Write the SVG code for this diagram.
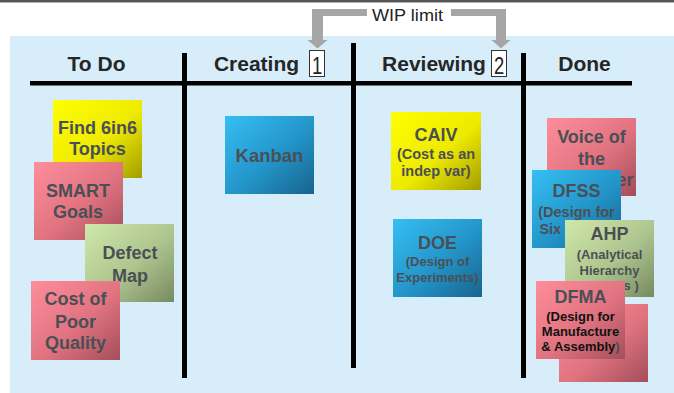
<svg xmlns="http://www.w3.org/2000/svg" width="674" height="393" viewBox="0 0 674 393">
<defs>
<linearGradient id="gY" x1="0" y1="0" x2="1" y2="1"><stop offset="0" stop-color="#ffff00"/><stop offset="0.55" stop-color="#eeea00"/><stop offset="1" stop-color="#a39d00"/></linearGradient>
<linearGradient id="gP" x1="0" y1="0" x2="1" y2="1"><stop offset="0" stop-color="#ff8d9b"/><stop offset="0.55" stop-color="#e0737f"/><stop offset="1" stop-color="#a34e5a"/></linearGradient>
<linearGradient id="gG" x1="0" y1="0" x2="1" y2="1"><stop offset="0" stop-color="#cfe8aa"/><stop offset="0.55" stop-color="#adc48e"/><stop offset="1" stop-color="#788a60"/></linearGradient>
<linearGradient id="gB" x1="0" y1="0" x2="1" y2="1"><stop offset="0" stop-color="#35bff4"/><stop offset="0.55" stop-color="#2394c8"/><stop offset="1" stop-color="#17648e"/></linearGradient>
<style>
.hd{font-family:"Liberation Sans",Arial,sans-serif;font-weight:bold;font-size:21px;fill:#262626;text-anchor:middle}
.t{font-family:"Liberation Sans",Arial,sans-serif;font-weight:bold;font-size:18px;fill:#4a4f55;text-anchor:middle}
.s{font-family:"Liberation Sans",Arial,sans-serif;font-weight:bold;font-size:13px;fill:#4a4f55;text-anchor:middle}
.s2{font-family:"Liberation Sans",Arial,sans-serif;font-weight:bold;font-size:14.5px;fill:#4a4f55;text-anchor:middle}
.k{fill:#111}
.ln{fill:#000}
.arw{fill:#a6a6a6}
.num{font-family:"Liberation Sans",Arial,sans-serif;font-size:23px;fill:#222;text-anchor:middle}
</style>
</defs>
<rect x="0" y="0" width="674" height="393" fill="#ffffff"/>
<rect x="0" y="0" width="674" height="2" fill="#555555"/>
<rect x="0" y="2" width="674" height="1" fill="#b0b0b0"/>
<rect x="10" y="36" width="664" height="357" fill="#d7eefa"/>

<g id="board-lines">
<rect class="ln" x="30" y="81" width="602" height="4.5"/>
<rect class="ln" x="182" y="53" width="5" height="325"/>
<rect class="ln" x="351" y="43" width="5" height="325"/>
<rect class="ln" x="521" y="53" width="5" height="325"/>
</g>

<g id="headers">
<text class="hd" x="96.5" y="71">To Do</text>
<text class="hd" x="256.5" y="71">Creating</text>
<text class="hd" x="434" y="71">Reviewing</text>
<text class="hd" x="584.5" y="71">Done</text>
</g>

<g id="wip">
<text x="372" y="21" textLength="71" lengthAdjust="spacingAndGlyphs" font-family="'Liberation Sans',Arial,sans-serif" font-size="17" fill="#222">WIP limit</text>
</g>

<g id="connectors">
<polygon class="arw" points="312,9 367,9 367,16 323,16 323,40 327.5,40 317.5,48.5 307.5,40 312,40"/>
<polygon class="arw" points="451,9 506,9 506,40 510.5,40 501,48.5 491.5,40 496,40 496,16 451,16"/>
</g>

<g id="limit1">
<rect x="309.5" y="50.5" width="15" height="26" fill="#fff" stroke="#333" stroke-width="1"/>
<text class="num" x="0" y="0" transform="translate(317,74) scale(0.8,1)">1</text>
</g>
<g id="limit2">
<rect x="491.5" y="50.5" width="15" height="26" fill="#fff" stroke="#333" stroke-width="1"/>
<text class="num" x="0" y="0" transform="translate(499,74) scale(0.8,1)">2</text>
</g>

<g id="note-find">
<rect x="53" y="100" width="89" height="78" fill="url(#gY)"/>
<text class="t" x="97.5" y="134">Find 6in6</text>
<text class="t" x="97.5" y="155">Topics</text>
</g>
<g id="note-smart">
<rect x="34" y="162" width="89" height="78" fill="url(#gP)"/>
<text class="t" x="78" y="197">SMART</text>
<text class="t" x="78" y="218">Goals</text>
</g>
<g id="note-defect">
<rect x="85" y="224" width="89" height="78" fill="url(#gG)"/>
<text class="t" x="130" y="259">Defect</text>
<text class="t" x="130" y="281.5">Map</text>
</g>
<g id="note-cost">
<rect x="31" y="281" width="89" height="79" fill="url(#gP)"/>
<text class="t" x="75.5" y="305">Cost of</text>
<text class="t" x="75.5" y="327.5">Poor</text>
<text class="t" x="75.5" y="348.5">Quality</text>
</g>

<g id="note-kanban">
<rect x="225" y="116" width="89" height="78" fill="url(#gB)"/>
<text class="t" x="269.5" y="162" style="font-size:18.5px">Kanban</text>
</g>

<g id="note-caiv">
<rect x="391" y="112" width="90" height="78" fill="url(#gY)"/>
<text class="t" x="436" y="141">CAIV</text>
<text class="s2" x="436" y="159">(Cost as an</text>
<text class="s2" x="436" y="176">indep var)</text>
</g>
<g id="note-doe">
<rect x="393" y="219" width="89" height="78" fill="url(#gB)"/>
<text class="t" x="437.5" y="249">DOE</text>
<text class="s" x="437.5" y="266">(Design of</text>
<text class="s" x="437.5" y="282">Experiments)</text>
</g>

<g id="note-voice">
<rect x="547" y="118" width="89" height="78" fill="url(#gP)"/>
<text class="t" x="591.5" y="143">Voice of</text>
<text class="t" x="591.5" y="165">the</text>
<text class="t" x="591.5" y="185.5">Customer</text>
</g>
<g id="note-dfss">
<rect x="532" y="170" width="89" height="78" fill="url(#gB)"/>
<text class="t" x="576.5" y="197">DFSS</text>
<text class="s2" x="576.5" y="217">(Design for</text>
<text class="s2" x="576.5" y="233.5">Six Sigma)</text>
</g>
<g id="note-ahp">
<rect x="565" y="220" width="89" height="77" fill="url(#gG)"/>
<text class="t" x="609.5" y="240">AHP</text>
<text class="s" x="609.5" y="259">(Analytical</text>
<text class="s" x="609.5" y="275">Hierarchy</text>
<text class="s" x="609.5" y="289.5">Process )</text>
</g>
<g id="note-back">
<rect x="559" y="304" width="89" height="78" fill="url(#gP)"/>
</g>
<g id="note-dfma">
<rect x="536" y="281" width="89" height="78" fill="url(#gP)"/>
<text class="t" x="580.5" y="303">DFMA</text>
<text class="s k" x="580.5" y="321">(Design for</text>
<text class="s k" x="580.5" y="336">Manufacture</text>
<text class="s" x="580.5" y="351"><tspan class="k">&amp; Assembly</tspan>)</text>
</g>
</svg>
